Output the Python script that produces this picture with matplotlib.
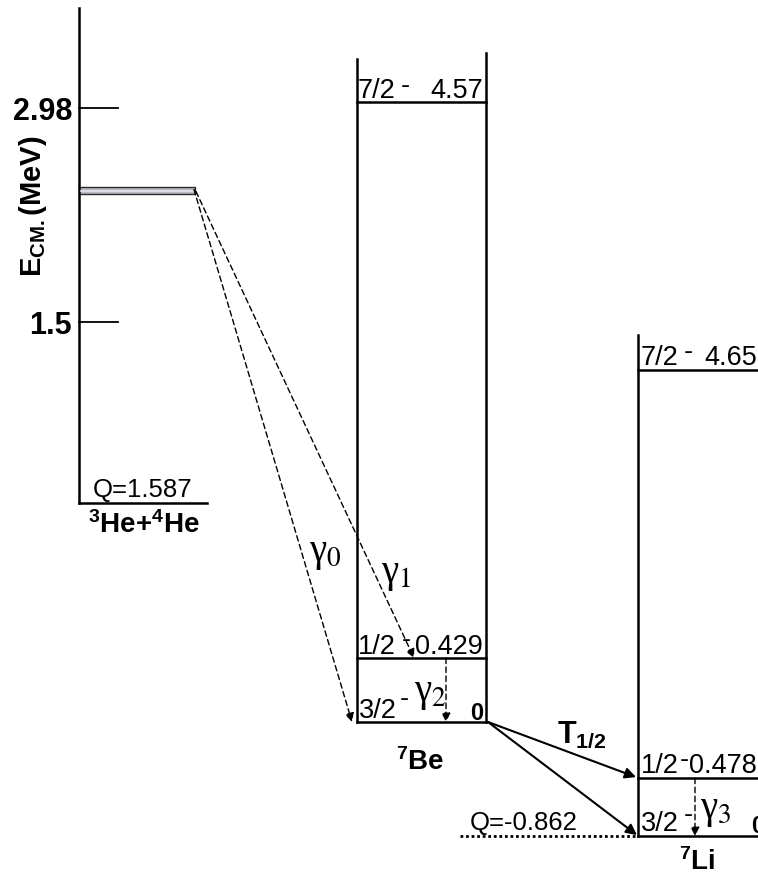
import matplotlib.pyplot as plt
from matplotlib import font_manager

plt.rcParams["font.family"] = ["Liberation Sans", "DejaVu Sans"]
plt.rcParams["mathtext.fontset"] = "custom"
plt.rcParams["mathtext.rm"] = "Liberation Sans:bold"
plt.rcParams["mathtext.bf"] = "Liberation Sans:bold"
plt.rcParams["mathtext.it"] = "Liberation Sans:bold"

# --- data ---
ecm_ticks = [1.5, 2.98]                 # MeV
ecm_ticklabels = ["1.5", "2.98"]
q_entrance = "Q=1.587"
q_decay = "Q=-0.862"

be7_spins = ["7/2", "1/2", "3/2"]
be7_energies = ["4.57", "0.429", "0"]
li7_spins = ["7/2", "1/2", "3/2"]
li7_energies = ["4.65", "0.478", "0"]

gamma_names = ["γ$_0$", "γ$_1$", "γ$_2$", "γ$_3$"]

# --- layout (schematic heights on the E_cm scale) ---
entrance_y = 0.248
beam_y = (2.385, 2.434)
axis_top = 3.672
axis_x = 79
beam_end = 195

be7_x = (357, 486)
be7_top = 3.36
be7_level_y = [3.022, -0.823, -1.266]
be7_minus = [(405, 5), (406, 7), (404, 12)]   # x, raise in px

li7_x = (638, 770)
li7_top = 1.41
li7_level_y = [1.169, -1.654, -2.055]
li7_minus = [(688, 6), (684, 6), (688, 9)]

YMIN, YMAX = -2.331, 3.727
PX = (YMAX - YMIN) / 876.0      # one pixel in data units

installed = {f.name for f in font_manager.fontManager.ttflist}
if "Liberation Sans Narrow" in installed:
    lvl = dict(family=["Liberation Sans Narrow", "DejaVu Sans"], fontsize=22)
else:
    lvl = dict(family=["Liberation Sans", "DejaVu Sans"], fontsize=19.5)

fig = plt.figure(figsize=(7.58, 8.76), dpi=100)
ax = fig.add_axes([0, 0, 1, 1])
ax.set_xlim(0, 758)
ax.set_ylim(YMIN, YMAX)
ax.axis("off")

LW = 1.8
qlbl = dict(fontsize=18.5, color="black")

# entrance channel axis
ax.plot([axis_x, axis_x], [entrance_y, axis_top], color="black", lw=LW)
for t, s in zip(ecm_ticks, ecm_ticklabels):
    ax.plot([axis_x, axis_x + 39], [t, t], color="black", lw=1.3)
    ax.text(axis_x - 7, t, s, ha="right", va="center_baseline",
            fontsize=22, fontweight="bold")
ax.text(33, 2.30, r"E$_{\rm CM.}$(MeV)", rotation=90, ha="center", va="center",
        fontsize=21, fontweight="bold")

# beam energy band
ax.fill_between([axis_x, beam_end], beam_y[0], beam_y[1],
                facecolor="#b9b9c1", edgecolor="#2a2a2a", lw=1.0)
ax.plot([axis_x + 2, beam_end - 2], [sum(beam_y) / 2] * 2, color="#e4e4ea", lw=1.2)

ax.plot([axis_x, 207], [entrance_y, entrance_y], color="black", lw=LW)
ax.text(143, entrance_y + 6 * PX, q_entrance, ha="center", va="baseline", **qlbl)
ax.text(144, entrance_y - 30 * PX, r"$^{3}$He+$^{4}$He", ha="center", va="baseline",
        fontsize=20, fontweight="bold")

# 7Be
ax.plot([be7_x[0]] * 2, [be7_level_y[-1], be7_top - 0.04], color="black", lw=LW)
ax.plot([be7_x[1]] * 2, [be7_level_y[-1], be7_top], color="black", lw=LW)
for y, sp, en, (mx, raise_) in zip(be7_level_y, be7_spins, be7_energies, be7_minus):
    ax.plot(be7_x, [y, y], color="black", lw=LW)
    base = y + 4 * PX
    if en == "0":
        ax.text(be7_x[0] + 2, base, sp, ha="left", va="baseline", **lvl)
        ax.text(be7_x[1] - 3, y + 2 * PX, en, ha="right", va="baseline",
                fontsize=17, fontweight="bold")
    else:
        ax.text(be7_x[0] + 1, base, sp, ha="left", va="baseline", **lvl)
        ax.text(be7_x[1] - 3, base, en, ha="right", va="baseline", **lvl)
    ax.text(mx, base + raise_ * PX, "-", ha="center", va="baseline", **lvl)
ax.text(420, be7_level_y[-1] - 48 * PX, r"$^{7}$Be", ha="center", va="baseline",
        fontsize=20, fontweight="bold")

# 7Li
ax.plot([li7_x[0]] * 2, [li7_level_y[-1], li7_top], color="black", lw=LW)
for y, sp, en, (mx, raise_) in zip(li7_level_y, li7_spins, li7_energies, li7_minus):
    ax.plot(li7_x, [y, y], color="black", lw=LW)
    base = y + 5 * PX
    ax.text(li7_x[0] + 3, base, sp, ha="left", va="baseline", **lvl)
    ax.text(mx, base + raise_ * PX, "-", ha="center", va="baseline", **lvl)
    if en == "0":
        # ground state label runs past the right edge
        ax.text(751, base - 2 * PX, en, ha="left", va="baseline", clip_on=True,
                fontsize=17, fontweight="bold")
    else:
        ax.text(757, base, en, ha="right", va="baseline", **lvl)
ax.text(697, li7_level_y[-1] - 34 * PX, r"$^{7}$Li", ha="center", va="baseline",
        fontsize=20, fontweight="bold")

# Q value of the beta decay
ax.plot([460, li7_x[0]], [li7_level_y[-1]] * 2, color="black", lw=2, ls=(0, (1, 1)))
ax.text(524, li7_level_y[-1] + 6 * PX, q_decay, ha="center", va="baseline", **qlbl)

# gamma transitions (dashed)
dash = dict(arrowstyle="-|>", color="black", lw=1.0, ls=(0, (4, 2.5)),
            mutation_scale=13, shrinkA=0, shrinkB=0)
beam_mid = sum(beam_y) / 2
ax.annotate("", xy=(be7_x[0] - 5, be7_level_y[2]), xytext=(beam_end - 1, beam_mid + PX),
            arrowprops=dash)
ax.annotate("", xy=(414, be7_level_y[1]), xytext=(beam_end + 1, beam_mid - PX),
            arrowprops=dash)
ax.annotate("", xy=(446, be7_level_y[2]), xytext=(446, be7_level_y[1]), arrowprops=dash)
ax.annotate("", xy=(695, li7_level_y[2]), xytext=(695, li7_level_y[1]), arrowprops=dash)

gpos = [(325, -0.10), (396, -0.245), (430, -1.07), (716, -1.875)]
for (gx, gy), g in zip(gpos, gamma_names):
    ax.text(gx, gy, g, ha="center", va="center", fontsize=28,
            family="Liberation Serif", math_fontfamily="stix")

# beta decay 7Be -> 7Li
solid = dict(arrowstyle="-|>", color="black", lw=1.5, mutation_scale=16,
             shrinkA=0, shrinkB=0)
ax.annotate("", xy=(636, li7_level_y[1] + PX), xytext=(be7_x[1] + 2, be7_level_y[2]),
            arrowprops=solid)
ax.annotate("", xy=(637, li7_level_y[2] + PX), xytext=(be7_x[1] + 2, be7_level_y[2]),
            arrowprops=solid)
ax.text(557, be7_level_y[2] - 21 * PX, r"T$_{1/2}$", ha="left", va="baseline",
        fontsize=22, fontweight="bold")

fig.savefig("out.png", dpi=100)
